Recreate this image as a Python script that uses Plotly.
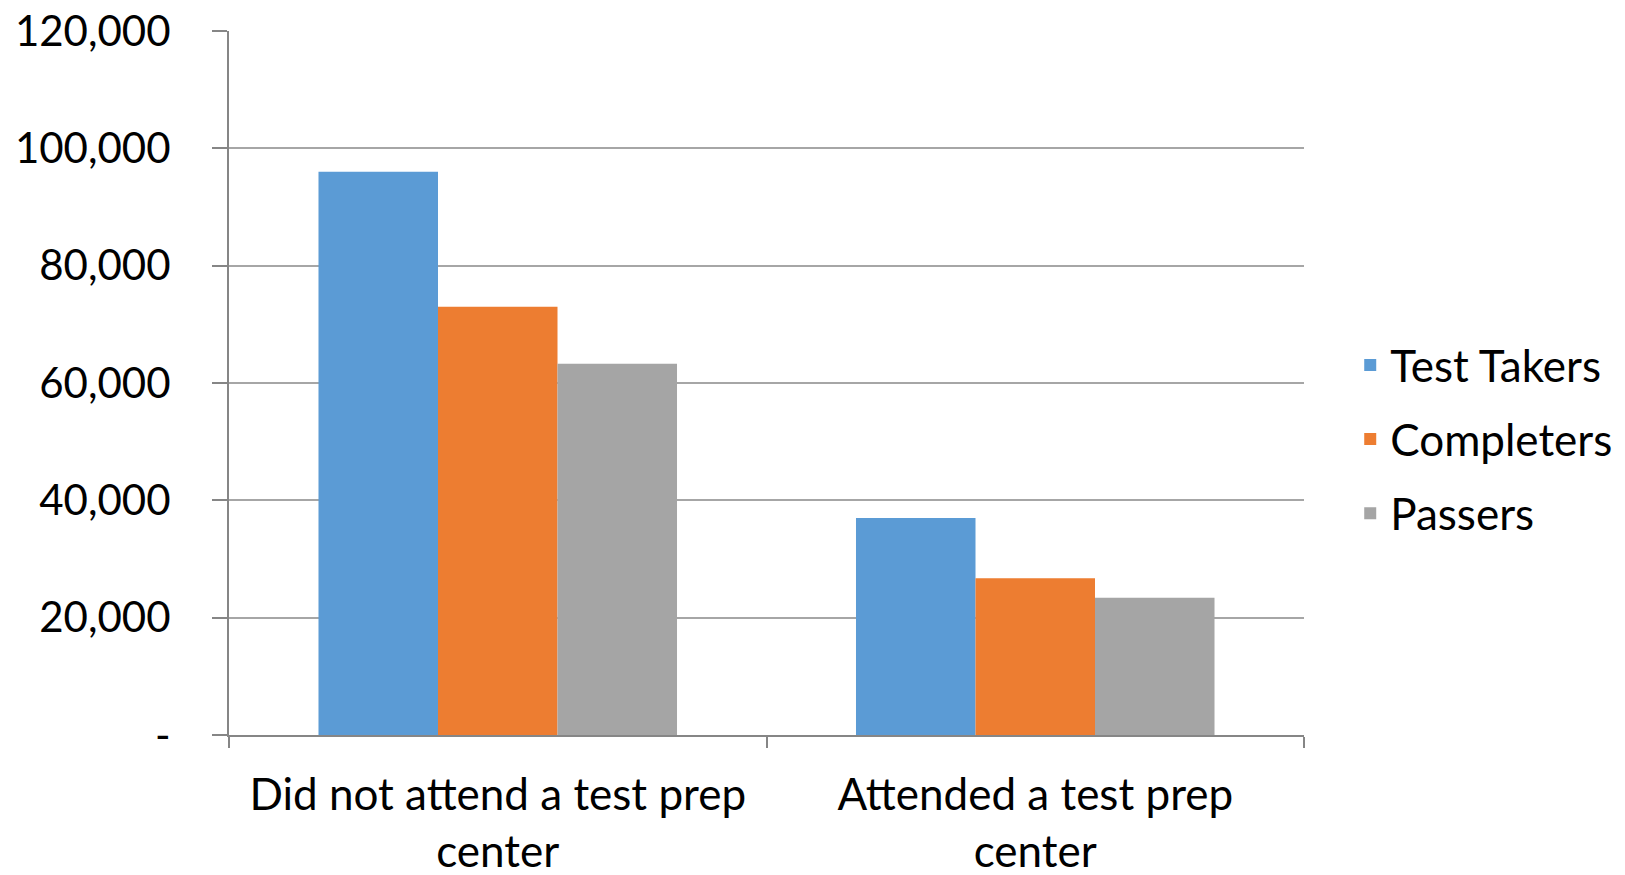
import plotly.graph_objects as go

categories = ["Did not attend a test prep<br>center", "Attended a test prep<br>center"]
series_names = ["Test Takers", "Completers", "Passers"]
test_takers = [96000, 37000]
completers = [73000, 26700]
passers = [63300, 23400]
y_tickvals = [0, 20000, 40000, 60000, 80000, 100000, 120000]
y_ticktext = ["-", "20,000", "40,000", "60,000", "80,000", "100,000", "120,000"]

colors = ["#5B9BD5", "#ED7D31", "#A5A5A5"]
FONT = "Lato"
FS = 44

fig = go.Figure()
for i, (name, vals) in enumerate(zip(series_names, [test_takers, completers, passers])):
    fig.add_trace(go.Bar(
        name=name, x=categories, y=vals,
        marker=dict(color=colors[i], line=dict(width=0)),
        legendgroup=name,
    ))

fig.update_layout(
    width=1625, height=875,
    margin=dict(l=221, r=329, t=23, b=148, autoexpand=False),
    paper_bgcolor="white", plot_bgcolor="white",
    barmode="group", bargap=0.333, bargroupgap=0,
    font=dict(family=FONT, size=FS, color="black"),
    legend=dict(
        x=1.043, xanchor="left", y=0.42, yanchor="middle",
        font=dict(family=FONT, size=FS, color="black"),
        tracegroupgap=14, bgcolor="rgba(0,0,0,0)",
    ),
    showlegend=True,
)
fig.update_xaxes(
    type="category", showline=True, linecolor="#868686", linewidth=2,
    ticks="outside", tickson="boundaries", ticklen=11, tickcolor="#868686", tickwidth=1.5,
    showgrid=False, ticklabelstandoff=20, automargin=False,
    ticklabeloverflow="allow",
    tickfont=dict(family=FONT, size=FS, color="black"),
)
fig.update_yaxes(
    range=[0, 120000], tickvals=y_tickvals, ticktext=y_ticktext,
    showline=True, linecolor="#868686", linewidth=2,
    ticks="outside", ticklen=15, tickcolor="#868686", tickwidth=1.5,
    showgrid=True, gridcolor="#A6A6A6", gridwidth=1.5,
    zeroline=False, ticklabelstandoff=33, automargin=False,
    ticklabeloverflow="allow",
    tickfont=dict(family=FONT, size=42, color="black"),
)

fig.write_html("out.html")
